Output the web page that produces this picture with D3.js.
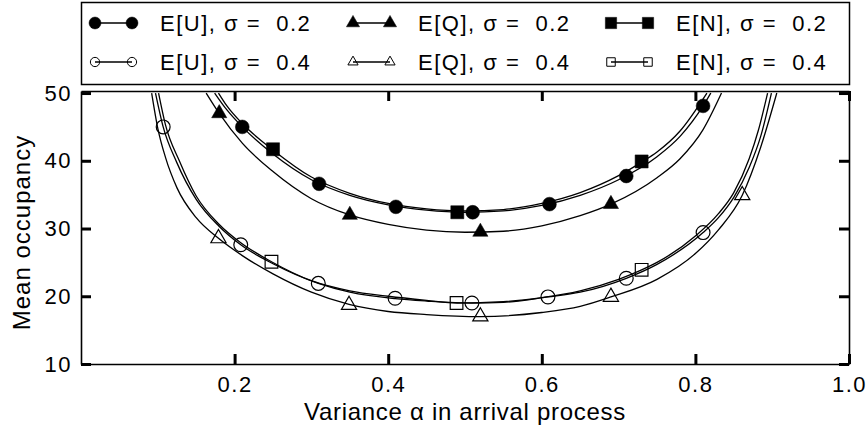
<!DOCTYPE html>
<html>
<head>
<meta charset="utf-8">
<script src="https://cdn.jsdelivr.net/npm/d3@7/dist/d3.min.js"></script>
<style>
    body { margin: 0; background: #fff; }
    svg text { font-family: "Liberation Sans", Arial, sans-serif; fill: #000; white-space: pre; }
</style>
</head>
<body>
<div id="chart"></div>
<script>
// Tick values
const xTickValues = [0.2, 0.4, 0.6, 0.8, 1.0];
const yTickValues = [10, 20, 30, 40, 50];

// Legend labels (row 1: sigma 0.2, row 2: sigma 0.4)
const legendLabels = [
    'E[U], σ =  0.2', 'E[Q], σ =  0.2', 'E[N], σ =  0.2',
    'E[U], σ =  0.4', 'E[Q], σ =  0.4', 'E[N], σ =  0.4'
];

// Symbols (simulation points), [alpha, occupancy]
const markU02 = [[0.21, 45.0], [0.31, 36.6], [0.41, 33.2], [0.51, 32.4], [0.61, 33.6], [0.71, 37.75], [0.81, 48.1]];
const markQ02 = [[0.18, 47.0], [0.35, 32.0], [0.52, 29.5], [0.69, 33.6]];
const markN02 = [[0.25, 41.7], [0.49, 32.4], [0.73, 39.9]];
const markU04 = [[0.107, 45.0], [0.208, 27.6], [0.309, 21.9], [0.409, 19.7], [0.509, 19.0], [0.608, 19.9], [0.71, 22.65], [0.81, 29.4]];
const markQ04 = [[0.179, 28.55], [0.349, 18.7], [0.52, 17.0], [0.69, 19.9], [0.861, 34.9]];
const markN04 = [[0.248, 25.1], [0.489, 19.0], [0.73, 23.9]];

// Analytic curves
const curveU02 = [[0.174, 50], [0.19, 47.5], [0.21, 45.0], [0.25, 41.0], [0.30, 37.2], [0.35, 34.9], [0.40, 33.5], [0.45, 32.7], [0.50, 32.4], [0.55, 32.6], [0.60, 33.4], [0.65, 34.9], [0.70, 37.2], [0.75, 40.6], [0.78, 43.6], [0.81, 48.1], [0.82, 50]];
const curveN02 = [[0.179, 50], [0.19, 48.1], [0.21, 45.5], [0.25, 41.6], [0.30, 37.6], [0.35, 35.2], [0.40, 33.7], [0.45, 32.9], [0.50, 32.6], [0.55, 32.8], [0.60, 33.7], [0.65, 35.3], [0.70, 37.8], [0.73, 39.8], [0.75, 41.3], [0.78, 44.4], [0.815, 50]];
const curveQ02 = [[0.163, 50], [0.18, 47.0], [0.21, 42.6], [0.25, 38.4], [0.30, 34.4], [0.35, 32.0], [0.40, 30.6], [0.45, 29.75], [0.50, 29.45], [0.55, 29.6], [0.60, 30.4], [0.65, 31.9], [0.69, 33.6], [0.75, 37.5], [0.78, 40.3], [0.81, 44.6], [0.834, 50]];
const curveU04 = [[0.097, 50], [0.107, 45.0], [0.1245, 39.8], [0.15, 34.3], [0.18, 30.3], [0.208, 27.6], [0.25, 24.8], [0.309, 21.9], [0.35, 20.6], [0.409, 19.65], [0.45, 19.3], [0.509, 19.0], [0.55, 19.1], [0.608, 19.9], [0.65, 20.6], [0.71, 22.65], [0.75, 24.7], [0.81, 29.4], [0.83, 31.6], [0.85, 34.6], [0.87, 39.0], [0.885, 43.6], [0.899, 50]];
const curveN04 = [[0.101, 50], [0.11, 45.3], [0.128, 40.0], [0.15, 34.8], [0.18, 30.6], [0.208, 27.9], [0.248, 25.1], [0.30, 22.3], [0.35, 20.8], [0.40, 20.0], [0.45, 19.4], [0.49, 19.0], [0.55, 19.2], [0.60, 19.8], [0.65, 20.8], [0.70, 22.5], [0.73, 23.9], [0.75, 25.0], [0.80, 28.9], [0.83, 32.2], [0.85, 35.3], [0.87, 40.3], [0.882, 44.5], [0.894, 50]];
const curveQ04 = [[0.092, 50], [0.10, 44.8], [0.11, 40.5], [0.125, 36.0], [0.15, 31.6], [0.179, 28.55], [0.21, 26.0], [0.25, 23.3], [0.30, 20.6], [0.349, 18.8], [0.40, 17.75], [0.45, 17.3], [0.52, 17.0], [0.60, 17.6], [0.65, 18.5], [0.69, 19.9], [0.75, 22.5], [0.80, 26.3], [0.83, 29.8], [0.861, 34.9], [0.885, 42.0], [0.906, 50]];

drawChart(document.getElementById('chart'));

function drawChart(container) {
    const width = 868;
    const height = 430;
    const plot = { left: 81, right: 849, top: 91, bottom: 364 };

    const series = [
        { label: legendLabels[0], shape: d3.symbolCircle, filled: true, size: 150, marks: markU02, line: curveU02 },
        { label: legendLabels[1], shape: d3.symbolTriangle, filled: true, size: 100, marks: markQ02, line: curveQ02 },
        { label: legendLabels[2], shape: d3.symbolSquare, filled: true, size: 170, marks: markN02, line: curveN02 },
        { label: legendLabels[3], shape: d3.symbolCircle, filled: false, size: 150, marks: markU04, line: curveU04 },
        { label: legendLabels[4], shape: d3.symbolTriangle, filled: false, size: 100, marks: markQ04, line: curveQ04 },
        { label: legendLabels[5], shape: d3.symbolSquare, filled: false, size: 160, marks: markN04, line: curveN04 }
    ];

    const svg = d3.select(container)
        .append('svg')
        .attr('width', width)
        .attr('height', height);

    const x = d3.scaleLinear().domain([0, 1]).range([plot.left, plot.right]);
    const y = d3.scaleLinear().domain([10, 50.3]).range([plot.bottom, plot.top]);

    svg.append('clipPath')
        .attr('id', 'plot-clip')
        .append('rect')
        .attr('x', plot.left)
        .attr('y', plot.top)
        .attr('width', plot.right - plot.left)
        .attr('height', plot.bottom - plot.top);

    // Curves
    const line = d3.line()
        .x(d => x(d[0]))
        .y(d => y(d[1]))
        .curve(d3.curveMonotoneX);

    svg.append('g')
        .attr('clip-path', 'url(#plot-clip)')
        .selectAll('path')
        .data(series)
        .enter()
        .append('path')
        .attr('d', d => line(d.line))
        .style('fill', 'none')
        .style('stroke', '#000')
        .style('stroke-width', '1.3px');

    // Symbols
    const symbolGroups = svg.append('g')
        .selectAll('g')
        .data(series)
        .enter()
        .append('g');

    symbolGroups.selectAll('path')
        .data(d => d.marks.map(m => ({ m, s: d })))
        .enter()
        .append('path')
        .attr('transform', d => `translate(${x(d.m[0])},${y(d.m[1])})`)
        .attr('d', d => d3.symbol().type(d.s.shape).size(d.s.size)())
        .style('fill', d => d.s.filled ? '#000' : 'none')
        .style('stroke', '#000')
        .style('stroke-width', d => d.s.filled ? '0.5px' : '1.2px');

    // Axes: ticks point inward on all four sides
    const styleAxis = g => {
        g.select('.domain').style('stroke', '#000').style('stroke-width', '1.6px');
        g.selectAll('.tick line').style('stroke', '#000').style('stroke-width', '3px');
        g.selectAll('.tick text')
            .style('font-size', '22px')
            .style('letter-spacing', '1.5px')
            .style('fill', '#000');
    };

    svg.append('g')
        .attr('transform', `translate(0,${plot.bottom})`)
        .call(d3.axisBottom(x).tickValues(xTickValues).tickSize(-10).tickSizeOuter(0)
            .tickPadding(12).tickFormat(d3.format('.1f')))
        .call(styleAxis);

    svg.append('g')
        .attr('transform', `translate(0,${plot.top})`)
        .call(d3.axisTop(x).tickValues(xTickValues).tickSize(-10).tickSizeOuter(0).tickFormat(''))
        .call(styleAxis);

    svg.append('g')
        .attr('transform', `translate(${plot.left},0)`)
        .call(d3.axisLeft(y).tickValues(yTickValues).tickSize(-10).tickSizeOuter(0).tickPadding(9))
        .call(styleAxis);

    svg.append('g')
        .attr('transform', `translate(${plot.right},0)`)
        .call(d3.axisRight(y).tickValues(yTickValues).tickSize(-10).tickSizeOuter(0).tickFormat(''))
        .call(styleAxis);

    // Axis titles
    svg.append('text')
        .attr('x', (plot.left + plot.right) / 2)
        .attr('y', 420)
        .attr('text-anchor', 'middle')
        .style('font-size', '24px')
        .style('letter-spacing', '0.7px')
        .text('Variance α in arrival process');

    svg.append('text')
        .attr('transform', `translate(30,${(plot.top + plot.bottom) / 2 + 5}) rotate(-90)`)
        .attr('text-anchor', 'middle')
        .style('font-size', '24px')
        .style('letter-spacing', '1px')
        .text('Mean occupancy');

    // Legend box
    const legend = svg.append('g');

    legend.append('rect')
        .attr('x', 81.5)
        .attr('y', 2.5)
        .attr('width', 768)
        .attr('height', 82)
        .style('fill', '#fff')
        .style('stroke', '#000')
        .style('stroke-width', '1.5px');

    const item = legend.selectAll('.item')
        .data(series)
        .enter()
        .append('g')
        .attr('class', 'item')
        .attr('transform', (d, i) => `translate(${95 + (i % 3) * 258},${i < 3 ? 23 : 62})`);

    item.append('line')
        .attr('x1', 0)
        .attr('x2', 37)
        .style('stroke', '#000')
        .style('stroke-width', '1.3px');

    item.selectAll('path')
        .data(d => [0, 37].map(dx => ({ dx, s: d })))
        .enter()
        .append('path')
        .attr('transform', d => `translate(${d.dx},0)`)
        .attr('d', d => d3.symbol().type(d.s.shape).size(d.s.filled ? d.s.size * 0.75 : d.s.size * 0.45)())
        .style('fill', d => d.s.filled ? '#000' : 'none')
        .style('stroke', '#000')
        .style('stroke-width', d => d.s.filled ? '0.5px' : '1px');

    item.append('text')
        .attr('x', 65)
        .attr('dy', '0.36em')
        .style('font-size', '22px')
        .style('letter-spacing', '1.5px')
        .text(d => d.label);
}
</script>
</body>
</html>
